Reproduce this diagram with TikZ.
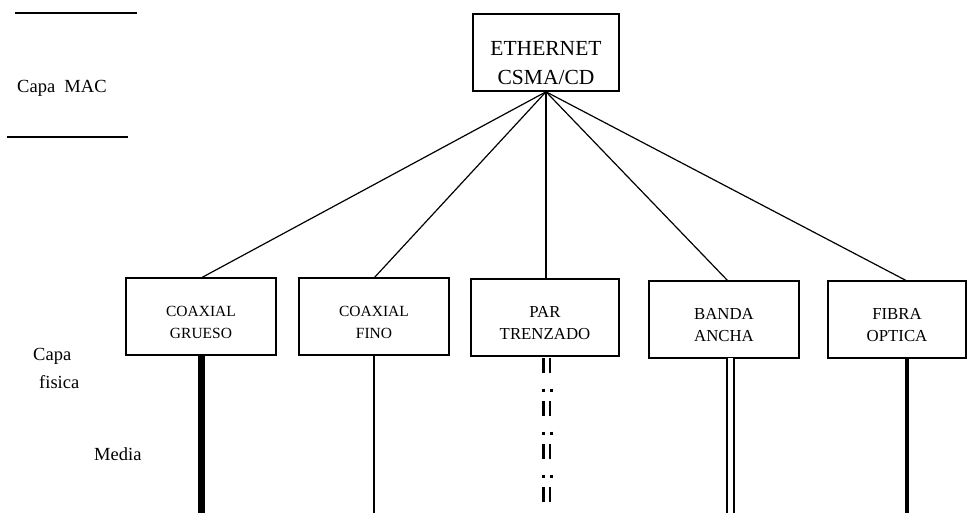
\documentclass[tikz,border=0pt]{standalone}
\usepackage{fontspec}
\setmainfont{Liberation Serif}
\begin{document}
\begin{tikzpicture}[x=1pt,y=-1pt,
  box/.style={draw,line width=1.6pt,inner sep=0pt},
  toptext/.style={align=center,inner sep=0pt,font=\fontsize{21.5}{29}\selectfont},
  medtext/.style={align=center,inner sep=0pt,font=\fontsize{15.5}{22}\selectfont},
  medtextb/.style={medtext,font=\fontsize{16.8}{22}\selectfont},
  sidetext/.style={anchor=base west,inner sep=0pt,font=\fontsize{18.5}{22}\selectfont},
  link/.style={line width=1.2pt},
  rule/.style={line width=2pt},
  bar/.style={line width=2.6pt,dash pattern=on 15pt off 28pt},
  dots/.style={line width=3pt,dash pattern=on 3pt off 40pt,dash phase=12.5pt}]
\useasboundingbox (0,0) rectangle (967,513);

% layer rules and labels
\draw[rule] (15,13) -- (137,13);
\draw[rule] (7,137) -- (128,137);
\node[sidetext] (mac) at (17,93) {Capa\ \ MAC};
\node[sidetext] (capa) at (33,360) {Capa};
\node[sidetext] (fis) at (39,388) {fisica};
\node[sidetext] (media) at (94,460) {Media};

% MAC box
\node[box,minimum width=146pt,minimum height=77pt] (eth) at (546,52.5) {};
\node[toptext] (ethtxt) at (546,63) {ETHERNET\\CSMA/CD};

% physical boxes
\node[box,minimum width=150pt,minimum height=77pt] (gru) at (201,316.5) {};
\node[medtext] (grutxt) at (201,322) {COAXIAL\\GRUESO};
\node[box,minimum width=150pt,minimum height=77pt] (fin) at (374,316.5) {};
\node[medtext] (fintxt) at (374,322) {COAXIAL\\FINO};
\node[box,minimum width=148pt,minimum height=77pt] (par) at (545,317.5) {};
\node[medtextb] (partxt) at (545,323) {PAR\\TRENZADO};
\node[box,minimum width=150pt,minimum height=77pt] (ban) at (724,319.5) {};
\node[medtextb] (bantxt) at (724,325) {BANDA\\ANCHA};
\node[box,minimum width=138pt,minimum height=77pt] (fib) at (897,319.5) {};
\node[medtextb] (fibtxt) at (897,325) {FIBRA\\OPTICA};

% media attachment points
\coordinate (grutop) at (201,278);
\coordinate (grubot) at (201,355);
\coordinate (gruend) at (201,513);
\coordinate (fintop) at (374,278);
\coordinate (finbot) at (374,355);
\coordinate (finend) at (374,513);
\coordinate (partop) at (546,279);
\coordinate (parbot) at (546,358);
\coordinate (parend) at (546,513);
\coordinate (bantop) at (728,281);
\coordinate (banbot) at (730.5,358);
\coordinate (banend) at (730.5,513);
\coordinate (fibtop) at (907,281);
\coordinate (fibbot) at (907,358);
\coordinate (fibend) at (907,513);

% tree
\draw[link] (eth.south) -- (grutop);
\draw[link] (eth.south) -- (fintop);
\draw[link] (eth.south) -- (partop);
\draw[link] (eth.south) -- (bantop);
\draw[link] (eth.south) -- (fibtop);

% transmission media
\draw[line width=7pt] (grubot) -- (gruend);
\draw[line width=2pt] (finbot) -- (finend);
\draw[bar] ([xshift=-2.5pt]parbot) -- ([xshift=-2.5pt]parend);
\draw[bar] ([xshift=4pt]parbot) -- ([xshift=4pt]parend);
\draw[dots] ([xshift=-2.5pt]parbot) -- ([xshift=-2.5pt]parend);
\draw[dots] ([xshift=5.5pt]parbot) -- ([xshift=5.5pt]parend);
\draw[line width=2pt,double distance=5pt] (banbot) -- (banend);
\draw[line width=4.5pt] (fibbot) -- (fibend);
\end{tikzpicture}
\end{document}
